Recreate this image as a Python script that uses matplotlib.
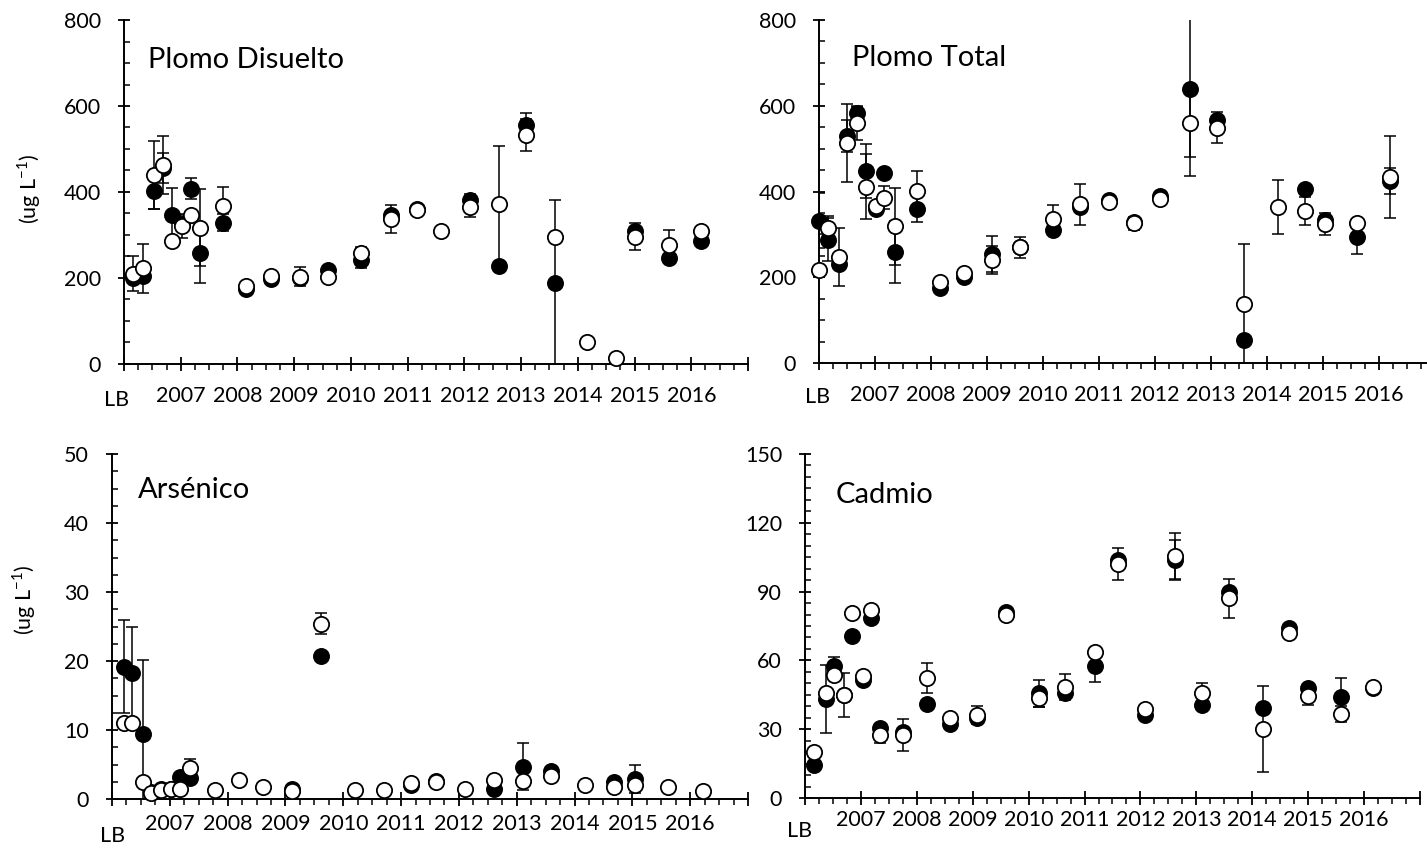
import numpy as np
import matplotlib
matplotlib.use('Agg')
import matplotlib.pyplot as plt

nan = np.nan

# --- Data (x in years from LB; 1 = 2007 ... 10 = 2016) ---
year_ticks = [0, 1, 2, 3, 4, 5, 6, 7, 8, 9, 10]
year_labels = ['', '2007', '2008', '2009', '2010', '2011', '2012', '2013', '2014', '2015', '2016']

# Plomo Disuelto
pd_x = [0.16, 0.34, 0.53, 0.69, 0.85, 1.02, 1.18, 1.34, 1.75, 2.15, 2.59, 3.10, 3.59,
        4.18, 4.70, 5.16, 5.58, 6.10, 6.61, 7.09, 7.59, 8.16, 8.67, 9.00, 9.60, 10.17]
pd_filled = [200, 205, 403, 455, 347, 325, 408, 258, 329, 174, 197, 200, 219,
             242, 347, 360, nan, 381, 229, 556, 189, nan, nan, 309, 246, 286]
pd_filled_err = [0, 0, 43, 35, 62, 0, 25, 69, 19, 0, 0, 0, 0,
                 18, 0, 0, 0, 14, 0, 27, 192, 0, 0, 0, 0, 0]
pd_open = [210, 223, 440, 463, 286, 321, 347, 317, 368, 181, 205, 203, 203,
           257, 337, 358, 309, 364, 372, 533, 296, 52, 13, 296, 277, 309]
pd_open_err = [40, 57, 79, 67, 0, 27, 0, 89, 44, 0, 0, 22, 0,
               15, 33, 0, 0, 21, 136, 37, 0, 0, 0, 31, 35, 0]

# Plomo Total
pt_x = [0.0, 0.16, 0.35, 0.50, 0.68, 0.84, 1.02, 1.16, 1.35, 1.75, 2.16, 2.59, 3.09, 3.59,
        4.17, 4.66, 5.17, 5.62, 6.09, 6.62, 7.10, 7.59, 8.20, 8.68, 9.03, 9.60, 10.19]
pt_filled = [332, 288, 232, 529, 582, 448, 360, 442, 259, 360, 176, 200, 254, 270,
             310, 365, 380, 330, 389, 640, 566, 54, nan, 405, 333, 294, 424]
pt_filled_err = [64, 50, 0, 37, 15, 63, 0, 0, 72, 31, 0, 0, 42, 0,
                 0, 0, 0, 0, 0, 204, 0, 0, 0, 0, 0, 40, 30]
pt_open = [217, 314, 248, 513, 560, 411, 366, 386, 319, 402, 190, 209, 240, 270,
           336, 370, 376, 326, 382, 560, 549, 138, 363, 355, 324, 327, 434]
pt_open_err = [0, 30, 68, 90, 40, 76, 0, 26, 90, 46, 0, 0, 33, 25,
               32, 48, 12, 15, 0, 80, 37, 139, 63, 33, 25, 0, 95]

# Arsenico
ar_x = [0.20, 0.35, 0.53, 0.68, 0.85, 1.02, 1.18, 1.35, 1.78, 2.19, 2.61, 3.11, 3.62,
        4.20, 4.70, 5.18, 5.60, 6.10, 6.60, 7.10, 7.60, 8.18, 8.69, 9.05, 9.62, 10.22]
ar_filled = [19.2, 18.2, 9.4, 1.0, 1.5, 1.5, 3.2, 3.0, nan, nan, nan, 1.5, 20.7,
             nan, nan, 2.0, 2.6, nan, 1.5, 4.7, 4.0, nan, 2.4, 2.9, nan, nan]
ar_filled_err = [6.8, 6.8, 10.8, 0, 0, 0, 0, 0, 0, 0, 0, 0, 0,
                 0, 0, 0, 0, 0, 0, 3.4, 0, 0, 0, 2.0, 0, 0]
ar_open = [11.0, 11.0, 2.4, 0.8, 1.3, 1.5, 1.4, 4.5, 1.3, 2.75, 1.8, 1.2, 25.4,
           1.3, 1.3, 2.3, 2.4, 1.4, 2.8, 2.6, 3.3, 2.0, 1.8, 2.1, 1.8, 1.1]
ar_open_err = [0, 0, 0, 0, 0, 0, 0, 1.3, 0, 0, 0, 0, 1.5,
               0, 0, 0, 0, 0, 0, 0, 0, 0, 0, 0, 0, 0]

# Cadmio
cd_x = [0.16, 0.37, 0.51, 0.70, 0.84, 1.03, 1.18, 1.35, 1.76, 2.18, 2.59, 3.08, 3.60,
        4.19, 4.65, 5.19, 5.60, 6.09, 6.62, 7.10, 7.59, 8.19, 8.66, 9.00, 9.58, 10.16]
cd_filled = [14.4, 43.2, 57.6, 45.0, 70.6, 51.5, 78.7, 30.4, 28.9, 41.0, 32.3, 34.8, 81.2,
             45.6, 45.6, 57.6, 103.8, 36.2, 103.8, 40.6, 89.7, 39.1, 74.0, 47.8, 44.2, 48.0]
cd_filled_err = [0, 14.7, 3.7, 0, 0, 0, 0, 0, 0, 0, 0, 0, 0,
                 6, 0, 7, 0, 0, 8.7, 0, 0, 0, 0, 0, 8, 0]
cd_open = [19.9, 45.6, 53.6, 44.9, 80.5, 53.2, 82.0, 27.5, 27.5, 52.2, 34.8, 36.2, 79.8,
           43.5, 48.5, 63.5, 102.0, 38.7, 105.5, 45.6, 87.1, 30.1, 71.8, 44.5, 36.6, 48.5]
cd_open_err = [0, 0, 0, 9.6, 0, 0, 0, 3.6, 7, 6.5, 0, 4, 0,
               4, 5.6, 0, 7, 0, 10, 4.7, 8.6, 18.6, 0, 4, 3.3, 0]

# --- Style ---
plt.rcParams['font.family'] = ['Lato', 'DejaVu Sans']
TICK_FS = 15.5
TITLE_FS = 21
MS = 11

fig = plt.figure(figsize=(14.27, 8.48), dpi=100)
W, H = 1427, 848


def add_axes(left, right, top, bottom):
    # axes box given in pixels of the 1427x848 picture
    return fig.add_axes([left / W, (H - bottom) / H, (right - left) / W, (bottom - top) / H])


def draw_panel(ax, x, filled, filled_err, opened, opened_err, ymax, ymajor, yminor,
               title, title_pos, xpad):
    # error bars first, clipped to the axes
    ax.errorbar(x, filled, yerr=filled_err, fmt='none', ecolor='black',
                elinewidth=1.1, capsize=4.5, capthick=1.1, zorder=2)
    ax.plot(x, filled, 'o', color='black', markersize=MS, markeredgewidth=1.2,
            clip_on=False, zorder=3)
    ax.errorbar(x, opened, yerr=opened_err, fmt='none', ecolor='black',
                elinewidth=1.1, capsize=4.5, capthick=1.1, zorder=4)
    ax.plot(x, opened, 'o', markerfacecolor='white', markeredgecolor='black',
            markersize=MS, markeredgewidth=1.3, clip_on=False, zorder=5)

    ax.set_xlim(0, 11)
    ax.set_ylim(0, ymax)
    ax.spines['top'].set_visible(False)
    ax.spines['right'].set_visible(False)
    ax.spines['left'].set_linewidth(1.4)
    ax.spines['bottom'].set_linewidth(1.4)

    ax.set_xticks(list(range(12)))
    ax.set_xticklabels(year_labels + [''])
    ax.set_xticks(np.arange(0, 11.01, 0.25), minor=True)
    ax.set_yticks(np.arange(0, ymax + 0.1, ymajor))
    ax.set_yticks(np.arange(0, ymax + 0.1, yminor), minor=True)

    ax.tick_params(axis='x', which='major', direction='inout', length=10, width=1.3,
                   labelsize=TICK_FS, pad=xpad)
    ax.tick_params(axis='x', which='minor', direction='out', length=4, width=1.1)
    ax.tick_params(axis='y', which='major', direction='inout', length=9, width=1.3,
                   labelsize=TICK_FS, pad=12)
    ax.tick_params(axis='y', which='minor', direction='in', length=4, width=1.1)

    ax.text(title_pos[0], title_pos[1], title, transform=ax.transAxes,
            fontsize=TITLE_FS, va='center', ha='left')


ax1 = add_axes(124, 748, 20, 364)
ax2 = add_axes(819, 1435, 20, 363)
ax3 = add_axes(112, 748, 454, 799)
ax4 = add_axes(805, 1420, 454, 798)

draw_panel(ax1, pd_x, pd_filled, pd_filled_err, pd_open, pd_open_err,
           800, 200, 50, 'Plomo Disuelto', (0.038, 0.885), 11)
draw_panel(ax2, pt_x, pt_filled, pt_filled_err, pt_open, pt_open_err,
           800, 200, 50, 'Plomo Total', (0.054, 0.89), 11)
draw_panel(ax3, ar_x, ar_filled, ar_filled_err, ar_open, ar_open_err,
           50, 10, 2.5, 'Arsénico', (0.041, 0.896), 6)
draw_panel(ax4, cd_x, cd_filled, cd_filled_err, cd_open, cd_open_err,
           150, 30, 5, 'Cadmio', (0.05, 0.88), 4)

# "LB" labels sit a little left of and below the year labels
for px, py in [(117, 400), (818, 397), (113, 836), (800, 831)]:
    fig.text(px / W, 1 - py / H, 'LB', ha='center', va='center', fontsize=TICK_FS)

# y axis titles on the left panels
ylab = r'(ug L$^{\mathregular{-1}}$)'
fig.text(29 / W, 1 - 189 / H, ylab, rotation=90, ha='center', va='center', fontsize=TICK_FS)
fig.text(24 / W, 1 - 600 / H, ylab, rotation=90, ha='center', va='center', fontsize=TICK_FS)

fig.savefig('out.png', dpi=100)
